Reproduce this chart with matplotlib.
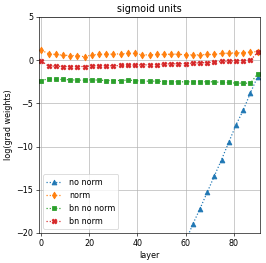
import matplotlib
matplotlib.use("Agg")
import matplotlib.pyplot as plt

layers = [0, 3, 6, 9, 12, 15, 18, 21, 24, 27, 30, 33, 36, 39, 42, 45, 48, 51, 54, 57,
          60, 63, 66, 69, 72, 75, 78, 81, 84, 87, 90]

# values before layer 63 lie below the visible range
no_norm = [-59.0, -57.1, -55.2, -53.3, -51.4, -49.4, -47.5, -45.6, -43.7, -41.7,
           -39.8, -37.9, -36.0, -34.0, -32.1, -30.2, -28.3, -26.3, -24.4, -22.5,
           -21.0, -19.0, -17.2, -15.3, -13.4, -11.5, -9.5, -7.5, -5.8, -3.8, -1.9]

norm = [1.16, 0.74, 0.66, 0.58, 0.54, 0.54, 0.39, 0.62, 0.66, 0.70,
        0.70, 0.74, 0.78, 0.78, 0.62, 0.62, 0.66, 0.66, 0.70, 0.70,
        0.62, 0.62, 0.62, 0.66, 0.66, 0.78, 0.82, 0.85, 0.89, 0.93, 1.0]

bn_no_norm = [-2.35, -2.15, -2.23, -2.23, -2.27, -2.31, -2.31, -2.27, -2.31, -2.35,
              -2.35, -2.35, -2.31, -2.35, -2.43, -2.43, -2.43, -2.47, -2.47, -2.50,
              -2.50, -2.50, -2.47, -2.50, -2.50, -2.58, -2.58, -2.66, -2.66, -2.66, -1.6]

bn_norm = [-0.10, -0.69, -0.69, -0.73, -0.73, -0.73, -0.73, -0.65, -0.65, -0.65,
           -0.65, -0.61, -0.61, -0.58, -0.54, -0.54, -0.50, -0.46, -0.42, -0.42,
           -0.39, -0.35, -0.31, -0.27, -0.23, -0.15, -0.12, -0.08, -0.04, 0.0, 0.9]

dpi = 58
fig = plt.figure(figsize=(266 / dpi, 263 / dpi), dpi=dpi)
ax = fig.add_axes([39 / 266, 30 / 263, 221 / 266, 216 / 263])

ax.plot(layers, no_norm, ':^', color='tab:blue', label='no norm')
ax.plot(layers, norm, ':d', color='tab:orange', label='norm')
ax.plot(layers, bn_no_norm, ':s', color='tab:green', label='bn no norm')
ax.plot(layers, bn_norm, ':X', color='tab:red', label='bn norm')

ax.set_xlim(-1, 91)
ax.set_ylim(-20, 5)
ax.set_xticks([0, 20, 40, 60, 80])
ax.set_yticks([5, 0, -5, -10, -15, -20])
ax.grid(True)
ax.set_title('sigmoid units')
ax.set_xlabel('layer')
ax.set_ylabel('log(grad weights)')
ax.legend(loc='lower left')

fig.savefig('out.png', dpi=dpi)
